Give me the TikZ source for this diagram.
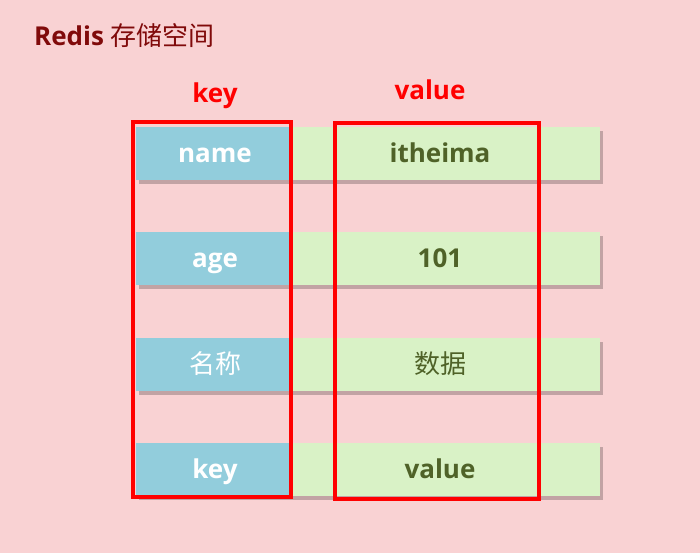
\documentclass[tikz,border=0pt]{standalone}
\usepackage{fontspec}
\setmainfont{Open Sans}
\newfontfamily\cjk{Noto Sans CJK SC}
\usetikzlibrary{shadows}

\definecolor{bgpink}{RGB}{249,210,211}
\definecolor{keyblue}{RGB}{146,205,220}
\definecolor{valgreen}{RGB}{217,242,198}
\definecolor{valdark}{RGB}{79,98,40}
\definecolor{titlered}{RGB}{128,10,10}

\tikzset{
  cellshadow/.style={drop shadow={shadow xshift=3pt, shadow yshift=-4pt, fill=black, opacity=0.22}},
  keycell/.style={fill=keyblue, minimum width=153pt, minimum height=53pt, inner sep=0pt, cellshadow},
  valcell/.style={fill=valgreen, minimum width=311pt, minimum height=53pt, inner sep=0pt, cellshadow},
  celltext/.style={anchor=base, font=\bfseries\fontsize{26}{31}\selectfont},
  redbox/.style={draw=red, line width=3.5pt},
  headlabel/.style={anchor=base, text=red, font=\bfseries\fontsize{26}{31}\selectfont}
}

\begin{document}
\begin{tikzpicture}[x=1pt, y=-1pt]
        \fill[bgpink] (0,0) rectangle (700,553);
        \useasboundingbox (0,0) rectangle (700,553);

        \node[anchor=base west, inner sep=0pt, text=titlered, font=\bfseries\fontsize{26}{31}\selectfont] (title) at (34,46)
            {Redis {\cjk\mdseries 存储空间}};

        \node[headlabel] (keyhead) at (215,103) {key};
        \node[headlabel] (valuehead) at (430,100) {value};

        \foreach \k/\v [count=\i] in {name/itheima, age/101, {\cjk\mdseries 名称}/{\cjk\mdseries 数据}, key/value} {
            \pgfmathsetmacro\y{153.5+105.3*(\i-1)}
            \node[valcell] (val\i) at (444.5,\y) {};
            \node[keycell] (key\i) at (212.5,\y) {};
            \node[celltext, text=white] (keytext\i) at (215,\y+9) {\k};
            \node[celltext, text=valdark] (valtext\i) at (440,\y+9) {\v};
        }

        \draw[redbox] (133,122) rectangle (291,497);
        \draw[redbox] (335,123) rectangle (539,499);
    \end{tikzpicture}
\end{document}
